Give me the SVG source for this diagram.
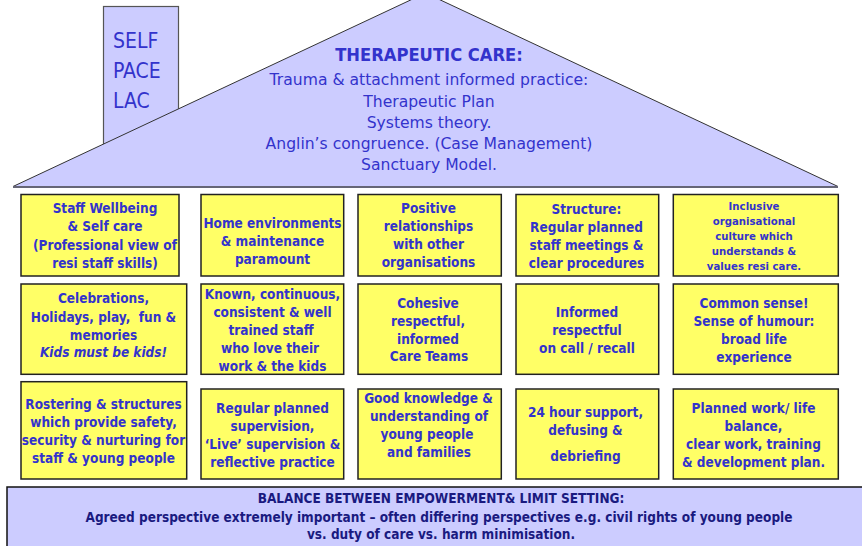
<svg xmlns="http://www.w3.org/2000/svg" width="862" height="546" viewBox="0 0 862 546">
  <style>
    .lav { fill: #ccccff; }
    .box { fill: #ffff66; stroke: #222222; stroke-width: 1.5; }
    .t { font-family: "DejaVu Sans Condensed", "DejaVu Sans", sans-serif; font-weight: bold; font-size: 13.5px; fill: #3333cc; text-anchor: middle; }
    .small { font-size: 11.3px; }
    .roof { font-family: "DejaVu Sans", sans-serif; font-size: 15.6px; fill: #3333cc; text-anchor: middle; }
    .title { font-family: "DejaVu Sans Condensed", "DejaVu Sans", sans-serif; font-weight: bold; font-size: 18.2px; fill: #3333cc; text-anchor: middle; }
    .chim { font-family: "DejaVu Sans Condensed", "DejaVu Sans", sans-serif; font-size: 21px; fill: #3333cc; }
    .ban { font-family: "DejaVu Sans Condensed", "DejaVu Sans", sans-serif; font-weight: bold; font-size: 13.5px; fill: #1a1a80; text-anchor: middle; }
  </style>

  <rect width="862" height="546" fill="#ffffff"/>

  <!-- chimney -->
  <g id="chimney">
    <rect class="lav" x="103.5" y="6.5" width="75" height="180.5" stroke="#555555" stroke-width="1.2"/>
    <text class="chim" x="113" y="48">SELF</text>
    <text class="chim" x="113" y="78">PACE</text>
    <text class="chim" x="113" y="108">LAC</text>
  </g>

  <!-- roof -->
  <g id="roof">
    <polygon class="lav" points="425.5,-7 13,186.5 838,186.5" stroke="#333333" stroke-width="1"/>
    <line x1="13" y1="187" x2="838" y2="187" stroke="#666677" stroke-width="2"/>
    <text class="title" x="429" y="61">THERAPEUTIC CARE:</text>
    <text class="roof" x="429" y="85">Trauma &amp; attachment informed practice:</text>
    <text class="roof" x="429" y="106.5">Therapeutic Plan</text>
    <text class="roof" x="429" y="127.5">Systems theory.</text>
    <text class="roof" x="429" y="149">Anglin’s congruence. (Case Management)</text>
    <text class="roof" x="429" y="170">Sanctuary Model.</text>
  </g>

  <!-- row 1 -->
  <g id="staff-wellbeing">
    <rect class="box" x="21" y="194.5" width="158" height="81.5"/>
    <text class="t" x="105" y="213.3">Staff Wellbeing</text>
    <text class="t" x="105" y="231.3">&amp; Self care</text>
    <text class="t" x="105" y="249.5">(Professional view of</text>
    <text class="t" x="105" y="267.5">resi staff skills)</text>
  </g>
  <g id="home-environments">
    <rect class="box" x="201" y="194.5" width="142.7" height="81.5"/>
    <text class="t" x="272.5" y="227.7">Home environments</text>
    <text class="t" x="272.5" y="245.7">&amp; maintenance</text>
    <text class="t" x="272.5" y="263.7">paramount</text>
  </g>
  <g id="positive-relationships">
    <rect class="box" x="358" y="194.5" width="143.3" height="81.5"/>
    <text class="t" x="428.5" y="213.3">Positive</text>
    <text class="t" x="428.5" y="231.3">relationships</text>
    <text class="t" x="428.5" y="249.3">with other</text>
    <text class="t" x="428.5" y="267.3">organisations</text>
  </g>
  <g id="structure">
    <rect class="box" x="516" y="194.5" width="142.7" height="81.5"/>
    <text class="t" x="586.5" y="214.3">Structure:</text>
    <text class="t" x="586.5" y="232.3">Regular planned</text>
    <text class="t" x="586.5" y="250.3">staff meetings &amp;</text>
    <text class="t" x="586.5" y="268.3">clear procedures</text>
  </g>
  <g id="inclusive-culture">
    <rect class="box" x="673.3" y="194.5" width="165" height="81.5"/>
    <text class="t small" x="754" y="210">Inclusive</text>
    <text class="t small" x="754" y="225">organisational</text>
    <text class="t small" x="754" y="240">culture which</text>
    <text class="t small" x="754" y="255">understands &amp;</text>
    <text class="t small" x="754" y="270">values resi care.</text>
  </g>

  <!-- row 2 -->
  <g id="celebrations">
    <rect class="box" x="21" y="284" width="165.7" height="90.3"/>
    <text class="t" x="103.5" y="303.3">Celebrations,</text>
    <text class="t" x="103.5" y="321.5" xml:space="preserve">Holidays, play,  fun &amp;</text>
    <text class="t" x="103.5" y="339.5">memories</text>
    <text class="t" x="103.5" y="356.7" font-style="italic">Kids must be kids!</text>
  </g>
  <g id="known-staff">
    <rect class="box" x="201" y="284" width="142.7" height="90.3"/>
    <text class="t" x="272.5" y="299">Known, continuous,</text>
    <text class="t" x="272.5" y="317">consistent &amp; well</text>
    <text class="t" x="271" y="335">trained staff</text>
    <text class="t" x="270" y="353">who love their</text>
    <text class="t" x="272.5" y="370.5">work &amp; the kids</text>
  </g>
  <g id="cohesive-teams">
    <rect class="box" x="358" y="284" width="143.3" height="90.3"/>
    <text class="t" x="428" y="307.7">Cohesive</text>
    <text class="t" x="428" y="325.5">respectful,</text>
    <text class="t" x="428" y="343.5">informed</text>
    <text class="t" x="429" y="361.3">Care Teams</text>
  </g>
  <g id="informed-on-call">
    <rect class="box" x="516" y="284" width="142.7" height="90.3"/>
    <text class="t" x="587" y="316.7">Informed</text>
    <text class="t" x="587" y="334.7">respectful</text>
    <text class="t" x="587" y="352.7">on call / recall</text>
  </g>
  <g id="common-sense">
    <rect class="box" x="673.3" y="284" width="165" height="90.3"/>
    <text class="t" x="754" y="308.3">Common sense!</text>
    <text class="t" x="754" y="326.3">Sense of humour:</text>
    <text class="t" x="754" y="344.3">broad life</text>
    <text class="t" x="754" y="362.3">experience</text>
  </g>

  <!-- row 3 -->
  <g id="rostering">
    <rect class="box" x="21" y="381.7" width="165.7" height="97.3"/>
    <text class="t" x="103.5" y="409">Rostering &amp; structures</text>
    <text class="t" x="103.5" y="427">which provide safety,</text>
    <text class="t" x="103.5" y="445">security &amp; nurturing for</text>
    <text class="t" x="103.5" y="463">staff &amp; young people</text>
  </g>
  <g id="supervision">
    <rect class="box" x="201" y="389" width="142.7" height="90"/>
    <text class="t" x="272.5" y="413.3">Regular planned</text>
    <text class="t" x="272.5" y="431.3">supervision,</text>
    <text class="t" x="272.5" y="449.3">‘Live’ supervision &amp;</text>
    <text class="t" x="272.5" y="466.7">reflective practice</text>
  </g>
  <g id="good-knowledge">
    <rect class="box" x="358" y="389" width="143.3" height="90"/>
    <text class="t" x="428.5" y="403.3">Good knowledge &amp;</text>
    <text class="t" x="429" y="421">understanding of</text>
    <text class="t" x="427" y="439">young people</text>
    <text class="t" x="429" y="456.7">and families</text>
  </g>
  <g id="support-24h">
    <rect class="box" x="516" y="389" width="142.7" height="90"/>
    <text class="t" x="585.5" y="416.7">24 hour support,</text>
    <text class="t" x="585.5" y="435">defusing &amp;</text>
    <text class="t" x="585.5" y="460.7">debriefing</text>
  </g>
  <g id="work-life-balance">
    <rect class="box" x="673.3" y="389" width="165" height="90"/>
    <text class="t" x="753.5" y="412.7">Planned work/ life</text>
    <text class="t" x="753.5" y="431">balance,</text>
    <text class="t" x="753.5" y="449">clear work, training</text>
    <text class="t" x="753.5" y="466.7">&amp; development plan.</text>
  </g>

  <!-- foundation banner -->
  <g id="balance">
    <rect class="lav" x="7" y="487" width="870" height="70" stroke="#111111" stroke-width="1.5"/>
    <text class="ban" x="441" y="503.3">BALANCE BETWEEN EMPOWERMENT&amp; LIMIT SETTING:</text>
    <text class="ban" x="439" y="521.7" font-size="13.75">Agreed perspective extremely important – often differing perspectives e.g. civil rights of young people</text>
    <text class="ban" x="441" y="539">vs. duty of care vs. harm minimisation.</text>
  </g>
</svg>
